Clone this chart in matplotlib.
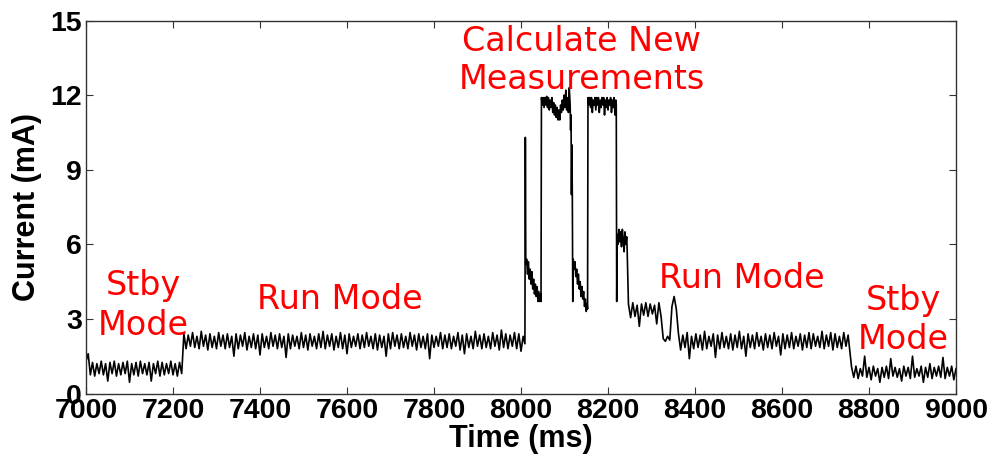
import numpy as np
import matplotlib
matplotlib.use("Agg")
import matplotlib.pyplot as plt

# ---- data (current in mA) ----
step_ms = 5  # sampling step of the regular segments

stby_a_start = 7000
stby_a = [1.3,1.6,0.75,1.25,0.7,1.2,0.8,1.3,0.75,1.2,0.5,1.25,0.8,1.3,0.7,1.2,0.75,1.25,0.8,1.3,
          0.45,1.2,0.75,1.25,0.7,1.3,0.8,1.2,0.75,1.25,0.5,1.2,0.8,1.3,0.7,1.25,0.75,1.2,0.8,1.3,
          0.75,1.2,0.7,1.25,0.8]

run_a_start = 7225
run_a = [2.4,1.8,2.35,1.9,2.45,1.85,2.3,1.8,2.5,1.9,2.35,1.75,2.4,1.85,2.3,1.8,2.45,1.9,2.35,1.8,
         2.4,1.85,2.3,1.5,2.4,1.8,2.35,1.9,2.45,1.75,2.3,1.85,2.4,1.8,2.35,1.55,2.4,1.85,2.3,1.8,
         2.45,1.9,2.35,1.8,2.4,1.85,2.3,1.45,2.4,1.8,2.35,1.9,2.3,1.8,2.45,1.85,2.35,1.75,2.4,1.9,
         2.3,1.8,2.4,1.85,2.5,1.8,2.35,1.9,2.4,1.75,2.3,1.85,2.45,1.8,2.35,1.6,2.4,1.85,2.3,1.9,
         2.4,1.8,2.35,1.85,2.45,1.9,2.3,1.8,2.4,1.75,2.35,1.85,2.3,1.5,2.4,1.8,2.45,1.9,2.35,1.8,
         2.4,1.85,2.3,1.8,2.45,1.9,2.35,1.75,2.4,1.85,2.3,1.8,2.4,1.4,2.35,1.85,2.3,1.9,2.45,1.8,
         2.35,1.85,2.4,1.8,2.3,1.9,2.45,1.75,2.35,1.6,2.4,1.85,2.3,1.8,2.5,1.9,2.35,1.8,2.4,1.85,
         2.3,1.8,2.45,1.9,2.35,1.75,2.55,1.85,2.4,1.8,2.35,1.9,2.45,1.8,2.4,1.7,2.3]

# calculation burst: explicit sample times (ms) and values (mA)
calc_t = [8009,8010,8011,8013,8015,8017,8019,8021,8023,8025,8027,8029,8031,8033,8035,8037,8039,8041,8043,8045,8046,
          8047,8049,8051,8053,8055,8057,8059,8061,8063,8065,8067,8069,8071,8073,8075,8077,8079,8081,8083,8085,
          8087,8089,8091,8093,8095,8097,8099,8101,8103,8105,8107,8109,8111,8113,
          8114,8115,8116,8117,8118,8119,
          8120,8122,8124,8126,8128,8130,8132,8134,8136,8138,8140,8142,8144,8146,8148,8150,8152,8153,
          8154,8156,8158,8160,8162,8164,8166,8168,8170,8172,8174,8176,8178,8180,8182,8184,8186,8188,8190,
          8192,8194,8196,8198,8200,8202,8204,8206,8208,8210,8212,8214,8216,8218,8219,
          8220,8221,8223,8225,8227,8229,8231,8233,8235,8237,8239,8241,8243,8244]
calc_v = [2.0,10.3,5.2,5.4,4.8,5.3,4.6,5.0,4.4,4.9,4.2,4.6,4.0,4.4,3.9,4.3,3.7,4.1,3.7,4.0,3.7,
          11.9,11.6,11.9,11.5,11.9,11.6,11.95,11.5,11.9,11.4,11.8,11.5,11.9,11.3,11.7,11.2,11.6,11.1,11.5,11.0,
          11.4,11.0,11.6,11.3,11.8,11.4,12.0,11.5,12.2,11.4,11.9,11.3,12.3,11.6,
          10.6,11.2,8.0,10.0,7.9,3.7,
          5.4,5.0,5.3,4.7,5.0,4.4,4.8,4.2,4.5,3.9,4.3,3.8,4.1,3.5,3.8,3.3,3.6,3.4,
          11.9,11.6,11.9,11.5,11.9,11.3,11.8,11.6,11.9,11.4,11.9,11.6,11.9,11.3,11.8,11.5,11.9,11.6,11.9,
          11.2,11.8,11.5,11.9,11.4,11.8,11.6,11.9,11.3,11.8,11.5,11.9,11.2,11.8,11.6,
          3.7,6.4,6.0,6.6,6.1,6.5,5.9,6.6,6.2,5.7,6.5,6.0,6.3,5.8]

run_b_start = 8247
run_b = [3.6,3.05,3.65,3.1,3.55,2.7,3.6,3.15,3.65,3.1,3.6,3.2,3.55,2.8,3.65,3.1,
         2.2,2.1,2.3,2.15,
         3.5,3.9,3.4,
         2.4,1.75,2.35,1.85,2.45,1.4,2.3,1.8,2.4,1.85,2.35,1.75,2.5,1.8,2.3,1.9,2.4,1.45,2.35,1.8,
         2.45,1.85,2.3,1.8,2.4,1.75,2.35,1.85,2.5,1.8,2.3,1.5,2.4,1.85,2.35,1.8,2.45,1.9,2.3,1.75,
         2.4,1.85,2.35,1.8,2.45,1.9,2.3,1.55,2.4,1.8,2.35,1.85,2.45,1.8,2.3,1.9,2.4,1.75,2.35,1.85,
         2.45,1.8,2.4,1.9,2.3,1.85,2.5,1.8,2.35,1.9,2.45,1.75,2.4,1.85,2.3,1.8,2.45,1.9,2.35]

stby_b_start = 8760
stby_b = [1.05,0.65,1.1,0.6,1.0,0.7,1.5,0.65,1.05,0.55,1.1,0.7,1.0,0.45,1.05,0.65,1.1,0.6,1.4,0.7,
          1.05,0.65,1.0,0.5,1.1,0.7,1.05,0.6,1.5,0.65,1.0,0.7,1.1,0.45,1.05,0.65,1.2,0.6,1.05,0.7,
          1.1,0.65,1.45,0.6,1.05,0.7,1.1,0.55,1.0]

x_ticks = [7000, 7200, 7400, 7600, 7800, 8000, 8200, 8400, 8600, 8800, 9000]
y_ticks = [0, 3, 6, 9, 12, 15]

labels = [("Stby", 7131, 3.96), ("Mode", 7131, 2.35),
          ("Run Mode", 7584, 3.40),
          ("Calculate New", 8140, 13.77), ("Measurements", 8140, 12.24),
          ("Run Mode", 8508, 4.24),
          ("Stby", 8878, 3.36), ("Mode", 8878, 1.79)]

# ---- build series ----
parts_t = [stby_a_start + step_ms * np.arange(len(stby_a)),
           run_a_start + step_ms * np.arange(len(run_a)),
           np.array(calc_t, dtype=float),
           run_b_start + step_ms * np.arange(len(run_b)),
           stby_b_start + step_ms * np.arange(len(stby_b))]
parts_v = [stby_a, run_a, calc_v, run_b, stby_b]
t = np.concatenate(parts_t)
y = np.concatenate([np.asarray(v, dtype=float) for v in parts_v])

fig = plt.figure(figsize=(9.97, 4.61), dpi=100)
ax = fig.add_axes([86/997, 1 - 393.5/461, (956 - 86)/997, (393.5 - 20.5)/461])
ax.plot(t, y, color="black", linewidth=1.2)

ax.set_xlim(7000, 9000)
ax.set_ylim(0, 15)
ax.set_xticks(x_ticks)
ax.set_yticks(y_ticks)
tick_font = dict(family="Liberation Sans", weight="bold", size=20.5)
ax.set_xticklabels([str(v) for v in x_ticks], fontdict=tick_font)
ax.set_yticklabels([str(v) for v in y_ticks], fontdict=tick_font)
ax.tick_params(direction="in", length=5, width=0.8, top=True, right=True,
               color="#333333", pad=3)
for sp in ax.spines.values():
    sp.set_color("#333333")
    sp.set_linewidth(1.0)

ax.set_xlabel("Time (ms)", family="Liberation Sans", weight="bold", size=22, labelpad=0)
ax.set_ylabel("Current (mA)", family="Liberation Sans", weight="bold", size=22, labelpad=6)

for txt, xx, yy in labels:
    ax.text(xx, yy, txt, color="red", family="DejaVu Sans", size=24,
            ha="center", va="baseline", clip_on=False)

fig.savefig("out.png", dpi=100)
